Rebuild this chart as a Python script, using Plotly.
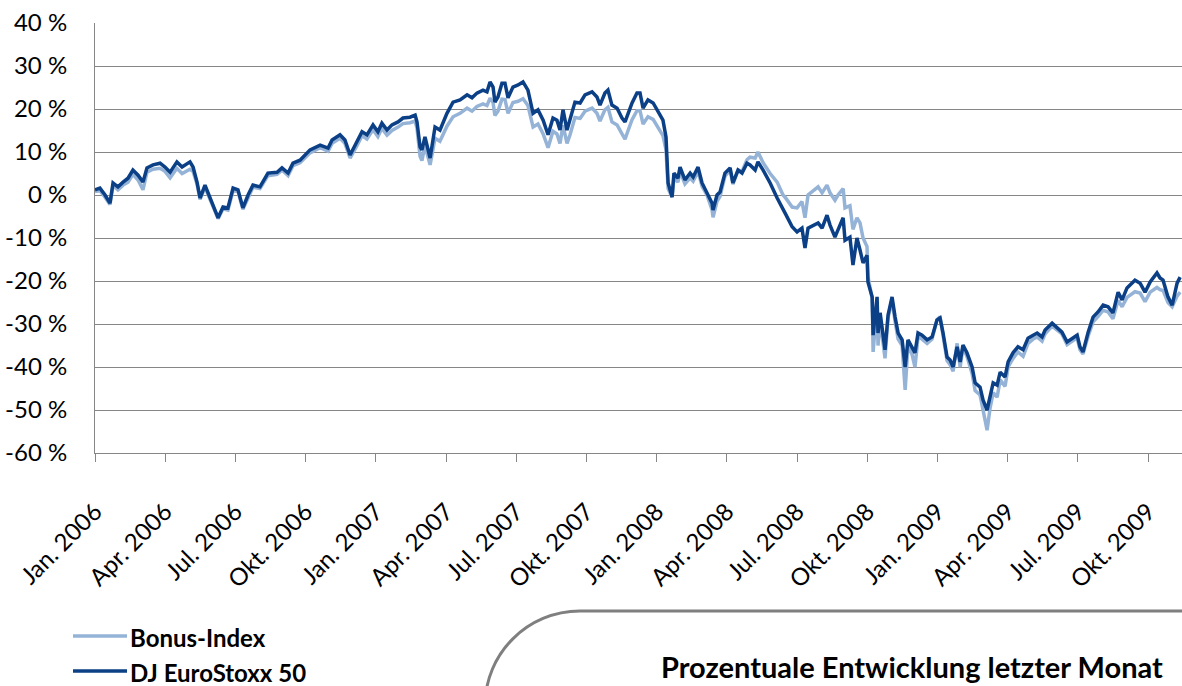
import plotly.graph_objects as go

# time axis: months since Jan. 2006
months = [0.00, 0.21, 0.43, 0.64, 0.77, 0.98, 1.20, 1.41, 1.62, 1.84, 2.05, 2.22, 2.48, 2.78, 2.99,
          3.21, 3.50, 3.72, 4.06, 4.19, 4.36, 4.49, 4.70, 4.91, 5.26, 5.47, 5.68, 5.90, 6.11, 6.32,
          6.54, 6.75, 7.05, 7.39, 7.78, 7.99, 8.25, 8.46, 8.76, 9.19, 9.62, 9.96, 10.13, 10.47, 10.68,
          10.90, 11.20, 11.41, 11.62, 11.88, 12.09, 12.26, 12.48, 12.69, 12.95, 13.16, 13.46, 13.68, 13.76,
          13.89, 13.97, 14.10, 14.32, 14.53, 14.74, 15.04, 15.30, 15.60, 15.90, 16.11, 16.32, 16.58, 16.75,
          16.88, 17.01, 17.09, 17.22, 17.39, 17.52, 17.65, 17.86, 18.08, 18.29, 18.50, 18.72, 18.93, 19.15,
          19.36, 19.57, 19.74, 19.87, 20.00, 20.17, 20.30, 20.51, 20.73, 20.94, 21.24, 21.45, 21.58, 21.79,
          21.92, 22.09, 22.31, 22.52, 22.65, 22.78, 22.95, 23.16, 23.29, 23.42, 23.63, 23.85, 24.06, 24.27,
          24.40, 24.49, 24.66, 24.74, 24.91, 25.00, 25.21, 25.43, 25.56, 25.77, 25.94, 26.15, 26.37, 26.41,
          26.58, 26.71, 26.92, 27.14, 27.26, 27.48, 27.65, 27.86, 27.99, 28.21, 28.33, 28.55, 28.85, 29.15,
          29.40, 29.49, 29.79, 30.00, 30.21, 30.34, 30.47, 30.68, 30.90, 31.07, 31.28, 31.41, 31.62, 31.75,
          31.97, 32.05, 32.26, 32.39, 32.56, 32.69, 32.82, 32.99, 33.03, 33.21, 33.25, 33.42, 33.46, 33.55,
          33.76, 33.89, 34.06, 34.19, 34.32, 34.49, 34.62, 34.74, 34.91, 35.04, 35.17, 35.34, 35.56, 35.77,
          35.98, 36.11, 36.24, 36.41, 36.54, 36.67, 36.84, 36.97, 37.09, 37.26, 37.48, 37.61, 37.82, 37.95,
          38.12, 38.25, 38.38, 38.55, 38.68, 38.89, 39.02, 39.23, 39.44, 39.66, 39.87, 40.09, 40.26, 40.47,
          40.60, 40.90, 41.11, 41.32, 41.54, 41.75, 41.97, 42.09, 42.22, 42.44, 42.65, 42.86, 43.08, 43.29,
          43.50, 43.72, 43.89, 44.10, 44.44, 44.66, 44.87, 45.09, 45.38, 45.51, 45.64, 45.85, 46.03, 46.24,
          46.37]

stoxx = [1.2, 1.6, 0.0, -1.9, 2.8, 1.9, 3.0, 3.9, 5.8, 4.6, 3.0, 6.3, 7.0, 7.4, 6.5,
         5.3, 7.7, 6.5, 7.7, 6.5, 3.0, -0.7, 2.3, -0.5, -5.3, -2.8, -3.0, 1.6, 1.2, -3.0,
         0.0, 2.3, 1.9, 5.1, 5.3, 6.3, 5.1, 7.4, 8.1, 10.5, 11.6, 10.9, 12.8, 14.0, 12.8,
         9.3, 12.3, 14.7, 14.0, 16.3, 14.7, 16.7, 15.1, 16.3, 17.0, 17.9, 18.1, 18.6, 17.0,
         11.2, 10.5, 13.5, 8.6, 15.8, 15.1, 19.0, 21.6, 22.1, 23.3, 22.6, 23.7, 24.4, 24.0,
         26.3, 25.1, 21.6, 22.8, 26.0, 26.0, 22.6, 25.1, 25.6, 26.3, 24.4, 19.0, 19.8, 17.4,
         14.0, 17.9, 17.4, 15.1, 19.8, 15.1, 17.4, 21.6, 21.4, 23.3, 24.0, 22.8, 20.9, 23.7,
         24.4, 20.9, 20.2, 17.9, 17.0, 19.0, 21.4, 23.7, 23.7, 20.2, 22.1, 21.4, 19.3, 17.4,
         13.5, 2.8, -0.5, 5.1, 3.9, 6.5, 3.5, 5.1, 4.2, 6.5, 2.8, 0.7, -1.9, -3.5,
         0.0, 0.7, 5.1, 6.3, 2.8, 5.8, 5.1, 7.4, 7.0, 5.8, 7.7, 5.8, 2.8, -0.7,
         -3.5, -4.2, -7.4, -8.6, -7.7, -12.3, -7.7, -7.0, -6.5, -7.7, -4.7, -7.0, -9.8, -8.1,
         -5.3, -10.5, -9.8, -16.3, -10.0, -12.8, -15.8, -14.0, -20.2, -23.7, -32.6, -23.7, -32.1, -27.4,
         -36.0, -27.9, -23.7, -28.4, -32.1, -33.7, -40.0, -33.7, -35.3, -36.7, -32.1, -32.6, -33.7, -33.0,
         -29.1, -28.6, -32.1, -37.7, -38.4, -40.0, -35.3, -38.8, -34.9, -36.7, -40.0, -43.7, -44.7, -47.7,
         -50.0, -47.2, -43.7, -44.2, -41.2, -42.3, -38.8, -36.7, -35.3, -36.0, -33.3, -32.6, -32.1, -33.0,
         -31.4, -29.8, -30.9, -31.9, -34.2, -33.3, -32.6, -35.3, -36.5, -31.9, -28.4, -27.2, -25.6, -26.0,
         -27.4, -22.6, -24.4, -21.6, -19.8, -20.5, -22.6, -20.2, -18.1, -19.3, -19.8, -23.7, -25.6, -20.5,
         -19.1]

bonus = [0.8, 1.0, -0.5, -2.2, 2.2, 1.2, 2.3, 3.0, 4.8, 3.5, 1.2, 5.3, 6.0, 6.2, 5.5,
         4.0, 6.2, 5.0, 6.0, 5.5, 2.5, -1.0, 1.8, -1.0, -5.5, -3.2, -3.5, 1.0, 0.8, -3.3,
         -0.5, 1.8, 1.5, 4.5, 4.8, 5.8, 4.5, 6.8, 7.5, 9.8, 11.0, 10.2, 12.0, 13.2, 12.0,
         8.6, 11.5, 13.8, 13.0, 15.2, 13.6, 15.5, 13.9, 15.0, 15.8, 16.6, 16.8, 17.2, 15.5,
         9.0, 8.0, 11.5, 7.0, 13.2, 12.5, 16.0, 18.2, 19.0, 20.2, 19.5, 20.6, 21.2, 20.8,
         22.5, 21.5, 18.5, 19.5, 22.3, 22.2, 19.0, 21.5, 21.8, 22.4, 20.8, 15.8, 16.5, 14.2,
         11.0, 14.8, 14.2, 12.0, 16.2, 12.0, 14.0, 18.0, 17.8, 19.5, 20.2, 19.0, 17.2, 19.8,
         20.4, 17.0, 16.3, 14.2, 13.0, 15.0, 17.5, 19.6, 19.6, 16.5, 18.2, 17.6, 15.6, 13.8,
         10.5, 1.5, -0.5, 4.0, 3.0, 5.5, 2.6, 4.0, 3.2, 5.5, 2.0, 0.0, -3.5, -5.2,
         -1.5, -0.3, 4.4, 5.8, 2.5, 5.8, 5.5, 8.2, 8.8, 8.6, 10.0, 7.5, 5.0, 3.0,
         0.0, -0.5, -2.8, -3.0, -1.5, -5.3, 0.0, 1.0, 1.9, 0.5, 2.3, 0.5, -1.2, 0.0,
         1.5, -3.0, -2.5, -8.0, -5.3, -6.5, -10.0, -12.0, -19.0, -24.0, -36.5, -25.0, -35.0, -29.0,
         -38.0, -28.5, -24.5, -29.5, -33.5, -35.0, -45.3, -35.0, -37.0, -40.0, -33.0, -33.5, -34.5, -33.5,
         -29.0, -28.3, -32.5, -38.5, -39.5, -41.0, -34.5, -40.0, -35.5, -37.5, -41.5, -45.5, -46.5, -50.5,
         -54.7, -49.5, -46.0, -47.0, -43.0, -44.5, -40.0, -38.0, -36.5, -37.5, -34.5, -33.5, -33.0, -34.0,
         -32.3, -30.5, -31.5, -32.3, -34.8, -34.0, -33.2, -36.0, -37.0, -32.8, -29.5, -28.3, -26.8, -27.2,
         -28.8, -24.5, -26.0, -23.8, -22.5, -22.8, -24.8, -22.6, -21.5, -22.0, -22.2, -25.0, -26.0, -23.5,
         -22.6]

tick_months = [0, 3, 6, 9, 12, 15, 18, 21, 24, 27, 30, 33, 36, 39, 42, 45]
tick_labels = ["Jan. 2006", "Apr. 2006", "Jul. 2006", "Okt. 2006",
               "Jan. 2007", "Apr. 2007", "Jul. 2007", "Okt. 2007",
               "Jan. 2008", "Apr. 2008", "Jul. 2008", "Okt. 2008",
               "Jan. 2009", "Apr. 2009", "Jul. 2009", "Okt. 2009"]
y_ticks = [40, 30, 20, 10, 0, -10, -20, -30, -40, -50, -60]
y_labels = [f"{v} %" for v in y_ticks]

series_names = ["Bonus-Index", "DJ EuroStoxx 50"]
series_colors = ["#95B3D7", "#0B3F86"]

FONT = "Lato"
W, H = 1182, 686
ML, MR, MT, MB = 95, 0, 23, 233
PW, PH = W - ML - MR, H - MT - MB


def px(x):
    return (x - ML) / PW


def py(y):
    return (H - MB - y) / PH


fig = go.Figure()
for name, vals, col in zip(series_names, [bonus, stoxx], series_colors):
    fig.add_trace(go.Scatter(x=months, y=vals, mode="lines", name=name,
                             line=dict(color=col, width=3.5), showlegend=False))

# legend (drawn beneath the chart, as in the original)
legend_rows = [636, 671]
for name, col, yy in zip(series_names, series_colors, legend_rows):
    fig.add_shape(type="line", xref="paper", yref="paper",
                  x0=px(73), x1=px(127), y0=py(yy), y1=py(yy),
                  line=dict(color=col, width=3.5))
    fig.add_annotation(text=f"<b>{name}</b>", x=px(128), y=py(yy + 1), xref="paper", yref="paper",
                       xanchor="left", yanchor="middle", showarrow=False,
                       font=dict(family=FONT, size=24, color="black"))

# rounded box (bottom right)
R = 95
k = 0.5523 * R
cx, top, left = 580, 611, 485
path = (f"M {px(W + 20)},{py(top)} L {px(cx)},{py(top)} "
        f"C {px(cx - k)},{py(top)} {px(left)},{py(top + R - k)} {px(left)},{py(top + R)} "
        f"L {px(left)},{py(H + 30)}")
fig.add_shape(type="path", path=path, xref="paper", yref="paper",
              line=dict(color="#7F7F7F", width=3))

fig.add_annotation(text="<b>Prozentuale Entwicklung letzter Monat</b>",
                   x=px(912), y=py(666), xref="paper", yref="paper",
                   xanchor="center", yanchor="middle",
                   showarrow=False, font=dict(family=FONT, size=29, color="black"))

fig.update_layout(
    width=W, height=H,
    margin=dict(l=ML, r=MR, t=MT, b=MB),
    paper_bgcolor="white", plot_bgcolor="white",
    font=dict(family=FONT, size=24, color="black"),
    showlegend=False,
    xaxis=dict(range=[0, 46.45], tickmode="array", tickvals=tick_months, ticktext=tick_labels,
               tickangle=-45, ticks="outside", ticklen=8, tickcolor="#868686",
               showline=True, linecolor="#868686", linewidth=1, ticklabelstandoff=26,
               showgrid=False, zeroline=False, tickfont=dict(family=FONT, size=24)),
    yaxis=dict(range=[-60, 40], tickmode="array", tickvals=y_ticks, ticktext=y_labels,
               showgrid=True, gridcolor="#868686", gridwidth=1,
               showline=True, linecolor="#868686", linewidth=1, ticklabelstandoff=22,
               zeroline=False, ticks="", tickfont=dict(family=FONT, size=24)),
)

fig.write_html("out.html", config={"displayModeBar": False},
               post_script="document.body.style.margin='0';")
